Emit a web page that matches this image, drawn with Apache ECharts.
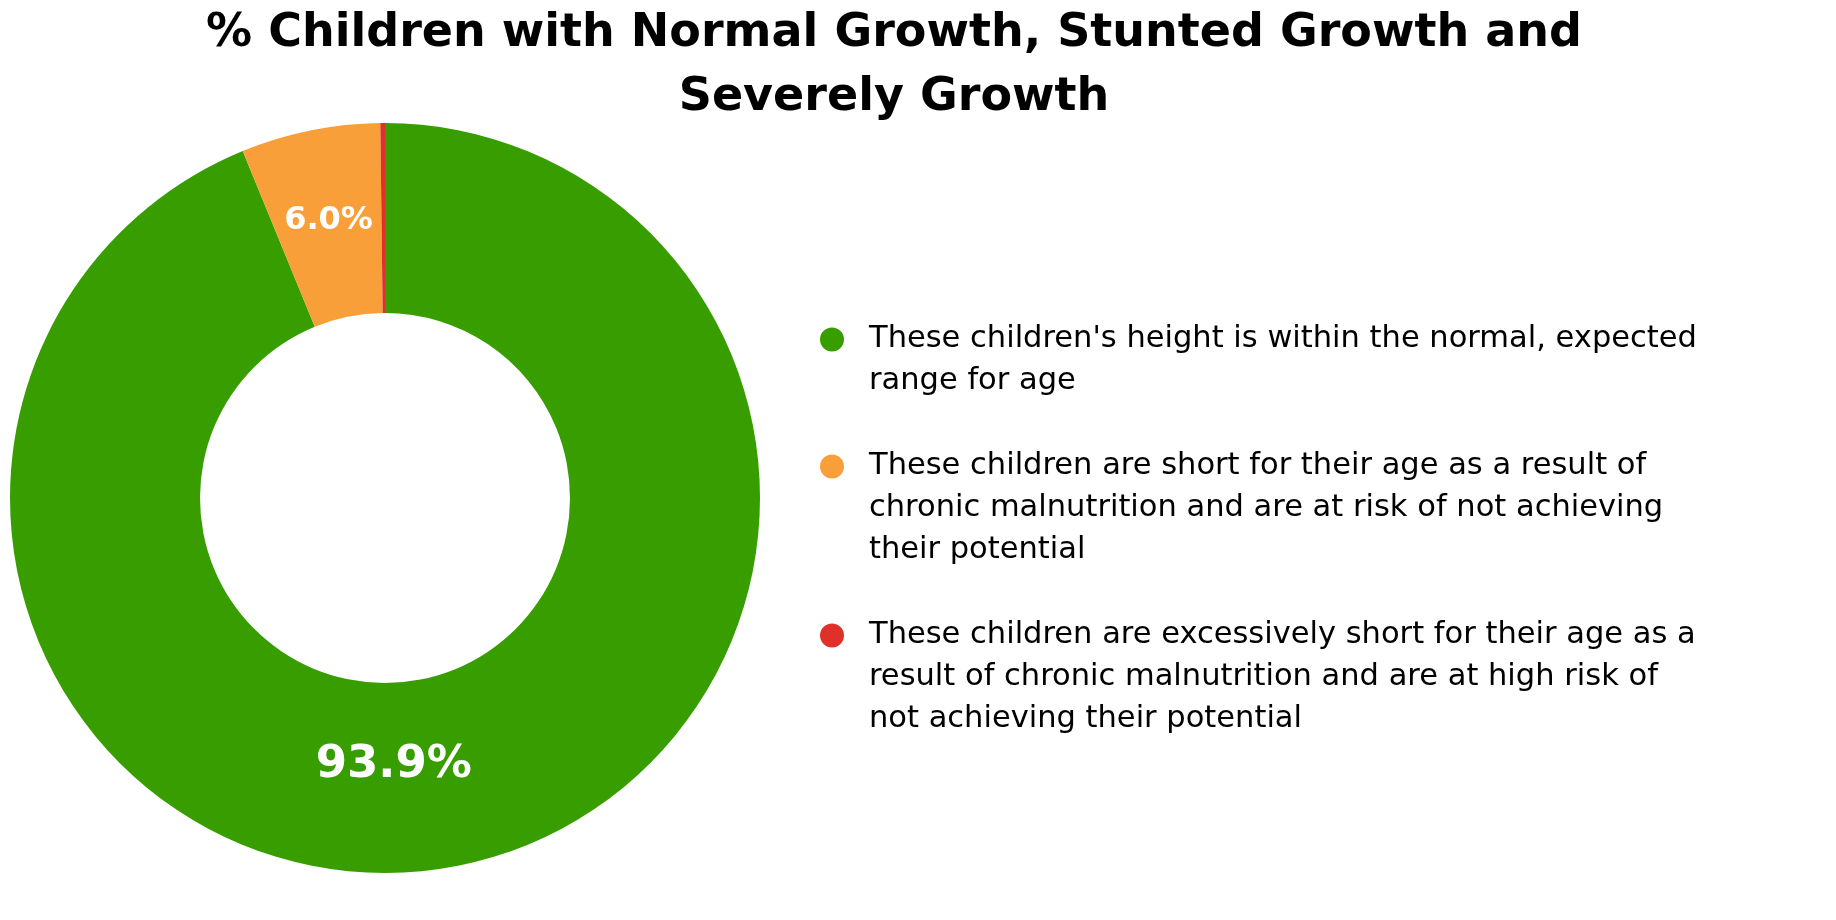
<!DOCTYPE html>
<html lang="en">

<head>
    <meta charset="UTF-8">
    <title>Children growth</title>
    <script src="https://cdn.jsdelivr.net/npm/echarts@6/dist/echarts.min.js"></script>
    <style>
        * {
            margin: 0;
            padding: 0;
        }

        html,
        body {
            width: 100%;
            height: 100%;
            background: #fff;
        }
    </style>
</head>

<body>
    <div id="main" style="width: 1836px;height:920px;"></div>
</body>
<script>
    var names = [
        "These children's height is within the normal, expected range for age",
        "These children are short for their age as a result of chronic malnutrition and are at risk of not achieving their potential",
        "These children are excessively short for their age as a result of chronic malnutrition and are at high risk of not achieving their potential"
    ];
    var values = [93.9, 6.0, 0.2];
    var colors = ['#389e00', '#f99f3a', '#e0302a'];

    var font = '"DejaVu Sans", sans-serif';

    // break legend names into lines of at most maxChars
    function wrap(text, maxChars) {
        var words = text.split(' ');
        var lines = [];
        var cur = '';
        for (var i = 0; i < words.length; i++) {
            var next = cur ? cur + ' ' + words[i] : words[i];
            if (next.length > maxChars && cur) {
                lines.push(cur);
                cur = words[i];
            } else {
                cur = next;
            }
        }
        if (cur) lines.push(cur);
        return lines;
    }

    var rich = {
        t: { fontSize: 30.5, lineHeight: 42, color: '#000', fontFamily: font },
        sp: { width: 25, lineHeight: 42 },
        ind: { width: 49, lineHeight: 42 }
    };
    for (var i = 0; i < colors.length; i++) {
        rich['d' + i] = { width: 24, height: 24, borderRadius: 12, backgroundColor: colors[i], lineHeight: 42 };
    }

    var pieData = [];
    for (var i = 0; i < names.length; i++) {
        pieData.push({ name: names[i], value: values[i], itemStyle: { color: colors[i] } });
    }
    // big slice label sits a bit off the mid angle in the original
    pieData[0].label = { fontSize: 45, offset: [-46, -10] };
    pieData[2].label = { show: false };

    var myChart = echarts.init(document.getElementById('main'));
    myChart.setOption({
        animation: false,
        title: {
            text: '% Children with Normal Growth, Stunted Growth and\nSeverely Growth',
            left: 894,
            top: 2,
            textAlign: 'center',
            padding: 0,
            textStyle: {
                fontFamily: font,
                fontWeight: 'bold',
                fontSize: 46,
                lineHeight: 64,
                color: '#000'
            }
        },
        legend: {
            orient: 'vertical',
            left: 810,
            top: 319,
            itemWidth: 0,
            itemHeight: 0,
            itemGap: 54,
            selectedMode: false,
            data: names,
            formatter: function (name) {
                var idx = names.indexOf(name);
                var lines = wrap(name, 55);
                return lines.map(function (l, j) {
                    return (j === 0 ? '{d' + idx + '| }{sp| }' : '{ind| }') + '{t|' + l + '}';
                }).join('\n');
            },
            textStyle: { rich: rich }
        },
        series: [
            {
                type: 'pie',
                center: [385, 498],
                radius: [185, 375],
                startAngle: 90,
                clockwise: true,
                avoidLabelOverlap: false,
                label: {
                    show: true,
                    position: 'inside',
                    color: '#fff',
                    fontFamily: font,
                    fontWeight: 'bold',
                    fontSize: 32,
                    formatter: function (p) {
                        return p.value.toFixed(1) + '%';
                    }
                },
                labelLine: { show: false },
                emphasis: { disabled: true },
                data: pieData
            }
        ]
    });
</script>

</html>
